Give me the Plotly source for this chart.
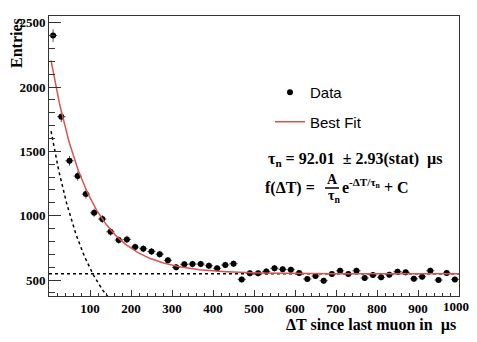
import numpy as np
import plotly.graph_objects as go

# bin centres (us) and counts per 20 us bin
dt_centres = [10, 30, 50, 70, 90, 110, 130, 150, 170, 190,
              210, 230, 250, 270, 290, 310, 330, 350, 370, 390,
              410, 430, 450, 470, 490, 510, 530, 550, 570, 590,
              610, 630, 650, 670, 690, 710, 730, 750, 770, 790,
              810, 830, 850, 870, 890, 910, 930, 950, 970, 990]
entries = [2400, 1770, 1427, 1308, 1168, 1023, 974, 875, 811, 816,
           756, 743, 722, 701, 653, 599, 622, 624, 624, 611,
           591, 617, 627, 505, 552, 552, 567, 591, 583, 580,
           554, 508, 531, 495, 547, 572, 547, 572, 516, 539,
           521, 541, 565, 560, 510, 526, 572, 500, 554, 505]

x_ticks = [100, 200, 300, 400, 500, 600, 700, 800, 900, 1000]
y_ticks = [500, 1000, 1500, 2000, 2500]

# fit parameters
tau_n = 92.01
amp = 1750.0      # A / tau_n
const = 548.0     # C

serif = "Liberation Serif"
sans = "Liberation Sans"

# page has an 8px body margin, plot frame sits at x 49..459, y 16..296
def px(x):
    return (x - 49) / 410.0

def py(y):
    return (296 - y) / 280.0

t_fit = np.linspace(5, 1000, 400)
f_fit = amp * np.exp(-t_fit / tau_n) + const
t_exp = np.linspace(5, 160, 120)
f_exp = amp * np.exp(-t_exp / tau_n)

fig = go.Figure()

fig.add_trace(go.Scatter(
    x=t_exp, y=f_exp, mode="lines", showlegend=False, hoverinfo="skip",
    line=dict(color="black", width=1.5, dash="3px,3px")))
fig.add_trace(go.Scatter(
    x=[0, 1000], y=[const, const], mode="lines", showlegend=False,
    hoverinfo="skip",
    line=dict(color="black", width=1.5, dash="3px,3px")))
fig.add_trace(go.Scatter(
    x=dt_centres, y=entries, mode="markers", name="Data",
    legendgroup="data",
    marker=dict(color="black", size=6),
    error_x=dict(type="constant", value=10, color="#555", thickness=1, width=0),
    error_y=dict(type="sqrt", color="#555", thickness=1, width=0)))
fig.add_trace(go.Scatter(
    x=t_fit, y=f_fit, mode="lines", name="Best Fit", legendgroup="fit",
    line=dict(color="#d9534f", width=1.5)))

# last x label would spill past the div and get hidden, so it is an annotation
x_labels = [str(v) for v in x_ticks[:-1]] + [""]

fig.update_layout(
    width=461, height=326,
    margin=dict(l=41, r=10, t=8, b=38),
    paper_bgcolor="white", plot_bgcolor="white",
    font=dict(family=serif, color="black"),
    legend=dict(x=px(270), y=py(76), xanchor="left", yanchor="top",
                bgcolor="rgba(0,0,0,0)", tracegroupgap=7,
                itemwidth=30,
                font=dict(family=sans, size=15, color="black")),
    xaxis=dict(range=[0, 1000], showgrid=False, zeroline=False,
               showline=True, linecolor="#333", linewidth=1, mirror=True,
               ticks="inside", ticklen=6, tickcolor="#333",
               tickvals=x_ticks, ticktext=x_labels,
               tickfont=dict(family=serif, size=13, weight="bold"),
               minor=dict(ticks="inside", ticklen=3, dtick=20,
                          tickcolor="#333")),
    yaxis=dict(range=[376, 2552], showgrid=False, zeroline=False,
               showline=True, linecolor="#333", linewidth=1, mirror=True,
               ticks="inside", ticklen=12, tickcolor="#333",
               tickvals=y_ticks,
               tickfont=dict(family=serif, size=13, weight="bold"),
               minor=dict(ticks="inside", ticklen=6, dtick=100,
                          tickcolor="#333")),
)

fig.add_annotation(text="<b>%d</b>" % x_ticks[-1], xref="paper", yref="paper",
                   x=px(456), y=py(306), xanchor="center", yanchor="middle",
                   showarrow=False, font=dict(family=serif, size=13))

# axis titles
fig.add_annotation(text="<b>Entries</b>", xref="paper", yref="paper",
                   x=px(16), y=py(16), xanchor="center", yanchor="top",
                   textangle=-90, showarrow=False,
                   font=dict(family=serif, size=16))
fig.add_annotation(text="<b>\u0394T since last muon in  \u00b5s</b>",
                   xref="paper", yref="paper", x=px(458), y=py(325),
                   xanchor="right", yanchor="middle", showarrow=False,
                   font=dict(family=serif, size=16))

# fit result text
fig.add_annotation(text="<b>\u03c4<sub>n</sub> = 92.01  \u00b1 2.93(stat)  \u00b5s</b>",
                   xref="paper", yref="paper", x=px(266), y=py(159),
                   xanchor="left", yanchor="middle", showarrow=False,
                   font=dict(family=serif, size=16))
fig.add_annotation(text="<b>f(\u0394T) = </b>",
                   xref="paper", yref="paper", x=px(263), y=py(188),
                   xanchor="left", yanchor="middle", showarrow=False,
                   font=dict(family=serif, size=16))
fig.add_annotation(text="<b>A</b>", xref="paper", yref="paper",
                   x=px(332), y=py(180), xanchor="center", yanchor="middle",
                   showarrow=False, font=dict(family=serif, size=14))
fig.add_annotation(text="<b>\u03c4<sub>n</sub></b>", xref="paper", yref="paper",
                   x=px(334), y=py(197), xanchor="center", yanchor="middle",
                   showarrow=False, font=dict(family=serif, size=14))
fig.add_shape(type="line", xref="paper", yref="paper",
              x0=px(325), x1=px(339), y0=py(188), y1=py(188),
              line=dict(color="black", width=1.5))
fig.add_annotation(text="<b>e<sup>-\u0394T/\u03c4<sub>n</sub></sup> + C</b>",
                   xref="paper", yref="paper", x=px(340), y=py(186),
                   xanchor="left", yanchor="middle", showarrow=False,
                   font=dict(family=serif, size=16))

fig.write_html("out.html", config={"displayModeBar": False})
